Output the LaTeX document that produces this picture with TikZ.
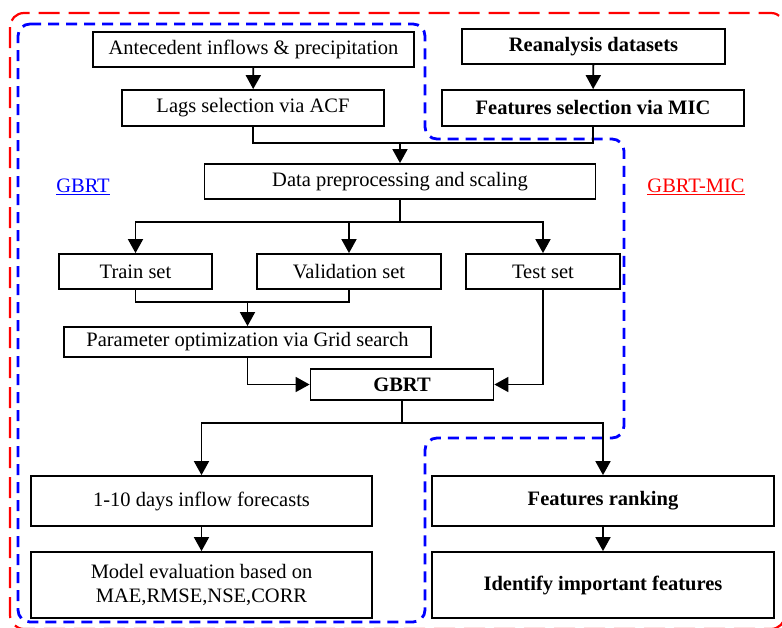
\documentclass[tikz,border=0pt]{standalone}
\usepackage{fontspec}
\setmainfont{Liberation Serif}
\usetikzlibrary{arrows.meta}
\tikzset{
  box/.style={draw=black, line width=1.8pt, inner sep=0pt, font=\fontsize{20.5}{24}\selectfont, align=center},
  bbox/.style={box, font=\fontsize{20.5}{24}\selectfont\bfseries},
  link/.style={draw=black, line width=1.8pt},
  arr/.style={link, -{Triangle[width=15pt,length=14pt]}},
  bluedash/.style={draw=blue, line width=2.8pt, dash pattern=on 11pt off 7pt, rounded corners=12pt},
  reddash/.style={draw=red, line width=2.2pt, dash pattern=on 21pt off 9pt, rounded corners=14pt},
}
\begin{document}
\begin{tikzpicture}[x=1pt,y=-1pt]
\useasboundingbox (0,0) rectangle (782,627);
% group frames
\draw[reddash] (10,13) rectangle (785,629);
\draw[bluedash] (18,24) -- (425,24) -- (425,139) -- (624,139) -- (624,438) -- (425,438) -- (425,622) -- (18,622) -- cycle;
% nodes
\node[box, minimum width=321pt, minimum height=35pt] (ante) at (253.5,49.5) {Antecedent inflows \& precipitation};
\node[box, minimum width=262pt, minimum height=36pt] (lags) at (253,108) {Lags selection via ACF};
\node[bbox, minimum width=263pt, minimum height=35pt] (rean) at (593.5,46.5) {Reanalysis datasets};
\node[bbox, minimum width=302pt, minimum height=36pt] (fsel) at (593,108) {Features selection via MIC};
\node[box, minimum width=391pt, minimum height=35pt] (data) at (400,181.5) {Data preprocessing and scaling};
\node[box, minimum width=153pt, minimum height=35pt] (train) at (135.5,271.5) {Train set};
\node[box, minimum width=184pt, minimum height=35pt] (val) at (349,271.5) {Validation set};
\node[box, minimum width=154pt, minimum height=35pt] (test) at (543,271.5) {Test set};
\node[box, minimum width=367pt, minimum height=30pt] (param) at (247.5,342) {Parameter optimization via Grid search};
\node[bbox, minimum width=183pt, minimum height=31pt] (gbrt) at (402,384.5) {GBRT};
\node[box, minimum width=341pt, minimum height=50pt] (fore) at (201.5,501) {1-10 days inflow forecasts};
\node[box, minimum width=341pt, minimum height=66pt] (eval) at (201.5,585) {Model evaluation based on\\MAE,RMSE,NSE,CORR};
\node[bbox, minimum width=342pt, minimum height=50pt] (rank) at (603,501) {Features ranking};
\node[bbox, minimum width=342pt, minimum height=66pt] (ident) at (603,585) {Identify important features};
% labels
\node[text=blue, font=\fontsize{20.5}{24}\selectfont] (lgbrt) at (83,187) {\underline{GBRT}};
\node[text=red, font=\fontsize{20.5}{24}\selectfont] (lmic) at (696,187) {\underline{GBRT-MIC}};
% junctions
\coordinate (j1) at (400,143);
\coordinate (j2) at (400,222);
\coordinate (j3) at (247.5,302);
\coordinate (j4) at (402,423);
% connectors
\draw[arr] (ante) -- (lags);
\draw[arr] (rean) -- (fsel);
\draw[link] (lags.south) |- (j1);
\draw[link] (fsel.south) |- (j1);
\draw[arr] (j1) -- (data.north);
\draw[link] (data.south) -- (j2);
\draw[arr] (j2) -| (train.north);
\draw[arr] (j2) -| (val.north);
\draw[arr] (j2) -| (test.north);
\draw[link] (train.south) |- (j3);
\draw[link] (val.south) |- (j3);
\draw[arr] (j3) -- (param.north);
\draw[arr] (param.south) |- (gbrt.west);
\draw[arr] (test.south) |- (gbrt.east);
\draw[link] (gbrt.south) -- (j4);
\draw[arr] (j4) -| (fore.north);
\draw[arr] (j4) -| (rank.north);
\draw[arr] (fore) -- (eval);
\draw[arr] (rank) -- (ident);
\end{tikzpicture}
\end{document}
